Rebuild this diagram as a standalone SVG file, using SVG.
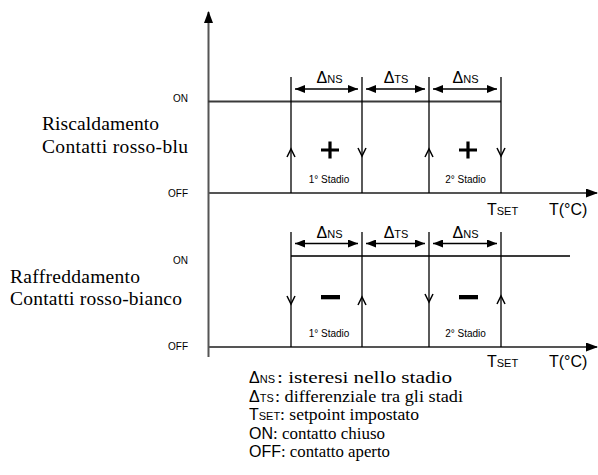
<svg xmlns="http://www.w3.org/2000/svg" width="598" height="475" viewBox="0 0 598 475">
<defs>
<marker id="dim" viewBox="0 0 10 8" refX="10" refY="4" markerWidth="10" markerHeight="8" markerUnits="userSpaceOnUse" orient="auto-start-reverse"><path d="M0,0 L10,4 L0,8 z" fill="#000"/></marker>
<marker id="axarr" viewBox="0 0 12 9" refX="11" refY="4.5" markerWidth="12" markerHeight="9" markerUnits="userSpaceOnUse" orient="auto"><path d="M0,0 L12,4.5 L0,9 z" fill="#000"/></marker>
</defs>
<style>
.axis{stroke:#555;stroke-width:2;fill:none}
.on{stroke:#3a3a3a;stroke-width:2;fill:none}
.vl{stroke:#000;stroke-width:1.3;fill:none}
.chev{stroke:#000;stroke-width:1.5;fill:none}
.dim{stroke:#000;stroke-width:1.3;fill:none;marker-start:url(#dim);marker-end:url(#dim)}
</style>

<g id="axes">
<line class="axis" x1="208.5" y1="357" x2="208.5" y2="12" marker-end="url(#axarr)"/>
<line class="axis" x1="208" y1="193" x2="597" y2="193" marker-end="url(#axarr)"/>
<line class="axis" x1="208" y1="347" x2="597" y2="347" marker-end="url(#axarr)"/>
</g>

<g id="left-labels" fill="#000">
<g font-family="Liberation Sans" font-size="10" text-anchor="end">
<text x="188" y="102">ON</text>
<text x="188" y="197">OFF</text>
<text x="188" y="264">ON</text>
<text x="188" y="350">OFF</text>
</g>
<text font-family="Liberation Serif" font-size="19.5" x="42" y="130" textLength="117">Riscaldamento</text>
<text font-family="Liberation Serif" font-size="19.5" x="42" y="153" textLength="146">Contatti rosso-blu</text>
<text font-family="Liberation Serif" font-size="19.5" x="10" y="283" textLength="130">Raffreddamento</text>
<text font-family="Liberation Serif" font-size="19.5" x="10" y="305" textLength="172">Contatti rosso-bianco</text>
</g>

<g id="heating" font-family="Liberation Sans" fill="#000">
<line class="on" x1="208" y1="101.5" x2="501" y2="101.5"/>
<line class="vl" x1="291" y1="77" x2="291" y2="193"/>
<line class="vl" x1="362" y1="77" x2="362" y2="193"/>
<line class="vl" x1="429" y1="77" x2="429" y2="193"/>
<line class="vl" x1="501" y1="77" x2="501" y2="101"/>
<line class="vl" x1="501" y1="101" x2="501" y2="193" stroke-width="2"/>
<path class="chev" d="M287,157 L291,149 L295,157"/>
<path class="chev" d="M358,148 L362,156 L366,148"/>
<path class="chev" d="M425,157 L429,149 L433,157"/>
<path class="chev" d="M497,148 L501,156 L505,148"/>
<path d="M321,150 H339 M330,141.5 V158.5" stroke="#000" stroke-width="3.2"/>
<path d="M459,150 H477 M468,141.5 V158.5" stroke="#000" stroke-width="3.2"/>
<line class="dim" x1="295" y1="89" x2="358" y2="89"/>
<line class="dim" x1="366" y1="89" x2="425" y2="89"/>
<line class="dim" x1="433" y1="89" x2="497" y2="89"/>
<text x="329.5" y="83" text-anchor="middle"><tspan font-size="16">Δ</tspan><tspan font-size="11">NS</tspan></text>
<text x="396" y="83" text-anchor="middle"><tspan font-size="16">Δ</tspan><tspan font-size="11">TS</tspan></text>
<text x="465.5" y="83" text-anchor="middle"><tspan font-size="16">Δ</tspan><tspan font-size="11">NS</tspan></text>
<text font-size="10" x="329" y="183" text-anchor="middle">1° Stadio</text>
<text font-size="10" x="465.5" y="183" text-anchor="middle">2° Stadio</text>
<text x="487" y="215"><tspan font-size="16">T</tspan><tspan font-size="11">SET</tspan></text>
<text x="549" y="215" font-size="16">T(°C)</text>
</g>

<g id="cooling" font-family="Liberation Sans" fill="#000">
<line class="on" x1="291" y1="256" x2="570" y2="256"/>
<line class="vl" x1="291" y1="232" x2="291" y2="347"/>
<line class="vl" x1="362" y1="232" x2="362" y2="347"/>
<line class="vl" x1="429" y1="232" x2="429" y2="347"/>
<line class="vl" x1="501" y1="232" x2="501" y2="256"/>
<line class="vl" x1="501" y1="256" x2="501" y2="347" stroke-width="2"/>
<path class="chev" d="M287,296 L291,304 L295,296"/>
<path class="chev" d="M358,305 L362,297 L366,305"/>
<path class="chev" d="M425,294 L429,302 L433,294"/>
<path class="chev" d="M497,304 L501,296 L505,304"/>
<rect x="321" y="295" width="19" height="4.3"/>
<rect x="459" y="295" width="19" height="4.3"/>
<line class="dim" x1="295" y1="243.5" x2="358" y2="243.5"/>
<line class="dim" x1="366" y1="243.5" x2="425" y2="243.5"/>
<line class="dim" x1="433" y1="243.5" x2="497" y2="243.5"/>
<text x="329.5" y="237.5" text-anchor="middle"><tspan font-size="16">Δ</tspan><tspan font-size="11">NS</tspan></text>
<text x="396" y="237.5" text-anchor="middle"><tspan font-size="16">Δ</tspan><tspan font-size="11">TS</tspan></text>
<text x="465.5" y="237.5" text-anchor="middle"><tspan font-size="16">Δ</tspan><tspan font-size="11">NS</tspan></text>
<text font-size="10" x="329" y="337" text-anchor="middle">1° Stadio</text>
<text font-size="10" x="465.5" y="337" text-anchor="middle">2° Stadio</text>
<text x="487" y="367"><tspan font-size="16">T</tspan><tspan font-size="11">SET</tspan></text>
<text x="549" y="367" font-size="16">T(°C)</text>
</g>

<g id="legend" fill="#000">
<g font-family="Liberation Sans">
<text x="249" y="383"><tspan font-size="16">Δ</tspan><tspan font-size="11">NS</tspan></text>
<text x="249" y="401.5"><tspan font-size="16">Δ</tspan><tspan font-size="11">TS</tspan></text>
<text x="249" y="420"><tspan font-size="16">T</tspan><tspan font-size="11">SET</tspan></text>
<text font-size="16" x="249" y="438.5">ON</text>
<text font-size="16" x="249" y="457">OFF</text>
</g>
<g font-family="Liberation Serif" font-size="16.5" lengthAdjust="spacingAndGlyphs">
<text x="277" y="383" textLength="175" lengthAdjust="spacingAndGlyphs">: isteresi nello stadio</text>
<text x="275" y="401.5" textLength="188" lengthAdjust="spacingAndGlyphs">: differenziale tra gli stadi</text>
<text x="280" y="420" textLength="139" lengthAdjust="spacingAndGlyphs">: setpoint impostato</text>
<text x="273" y="438.5" textLength="112" lengthAdjust="spacingAndGlyphs">: contatto chiuso</text>
<text x="281" y="457" textLength="109" lengthAdjust="spacingAndGlyphs">: contatto aperto</text>
</g>
</g>
</svg>
